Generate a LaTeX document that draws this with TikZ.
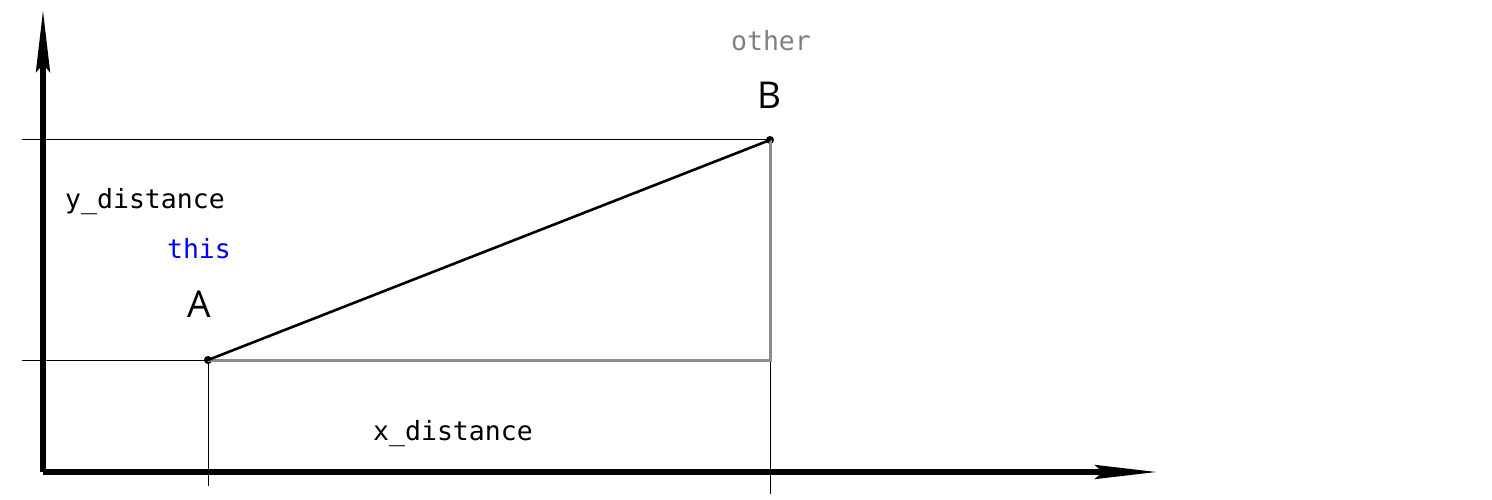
\documentclass[tikz,border=0pt]{standalone}
\usepackage{fontspec}
\setmainfont{Open Sans}
\newfontfamily\monof{DejaVu Sans Mono}
\usetikzlibrary{arrows.meta}
\begin{document}
\begin{tikzpicture}[x=1pt,y=-1pt,
  axis/.style={line width=5.5pt,-{Stealth[length=62pt,width=14pt,inset=8pt]}},
  guide/.style={line width=1pt,black},
  legpart/.style={line width=3pt,gray!90},
  seg/.style={line width=2.6pt,black},
  pt/.style={circle,fill=black,inner sep=0pt,minimum size=8pt},
  mono/.style={font=\monof\fontsize{26.5}{30}\selectfont,inner sep=0pt},
  letter/.style={font=\fontsize{37}{40}\selectfont,inner sep=0pt}]
\useasboundingbox (0,0) rectangle (1492,500);
% axes
\coordinate (O) at (43,472);
\coordinate (ytip) at (43,10);
\coordinate (xtip) at (1157,472);
\draw[axis] (O) -- (ytip);
\draw[axis] (O) -- (xtip);
% points
\node[pt] (A) at (208,360) {};
\node[pt] (B) at (770,140) {};
\coordinate (C) at (770,360);
% guide lines
\coordinate (gyB) at (22,140);
\coordinate (gyA) at (22,360);
\coordinate (gxA) at (208,486);
\coordinate (gxB) at (770,494);
\draw[guide] (gyB) -- (B.center);
\draw[guide] (gyA) -- (A.center);
\draw[guide] (A.center) -- (gxA);
\draw[guide] (C) -- (gxB);
% legs
\draw[legpart] (A.center) -- (C) -- (B.center);
% hypotenuse
\draw[seg] (A.center) -- (B.center);
% labels
\node[mono,text=gray] (tother) at (771,41) {other};
\node[letter] (tB) at (769,95) {B};
\node[mono] (ty) at (145,202) {y\_distance};
\node[mono,text=blue] (tthis) at (199,249) {this};
\node[letter] (tA) at (199,304) {A};
\node[mono] (tx) at (453,434) {x\_distance};
\end{tikzpicture}
\end{document}
